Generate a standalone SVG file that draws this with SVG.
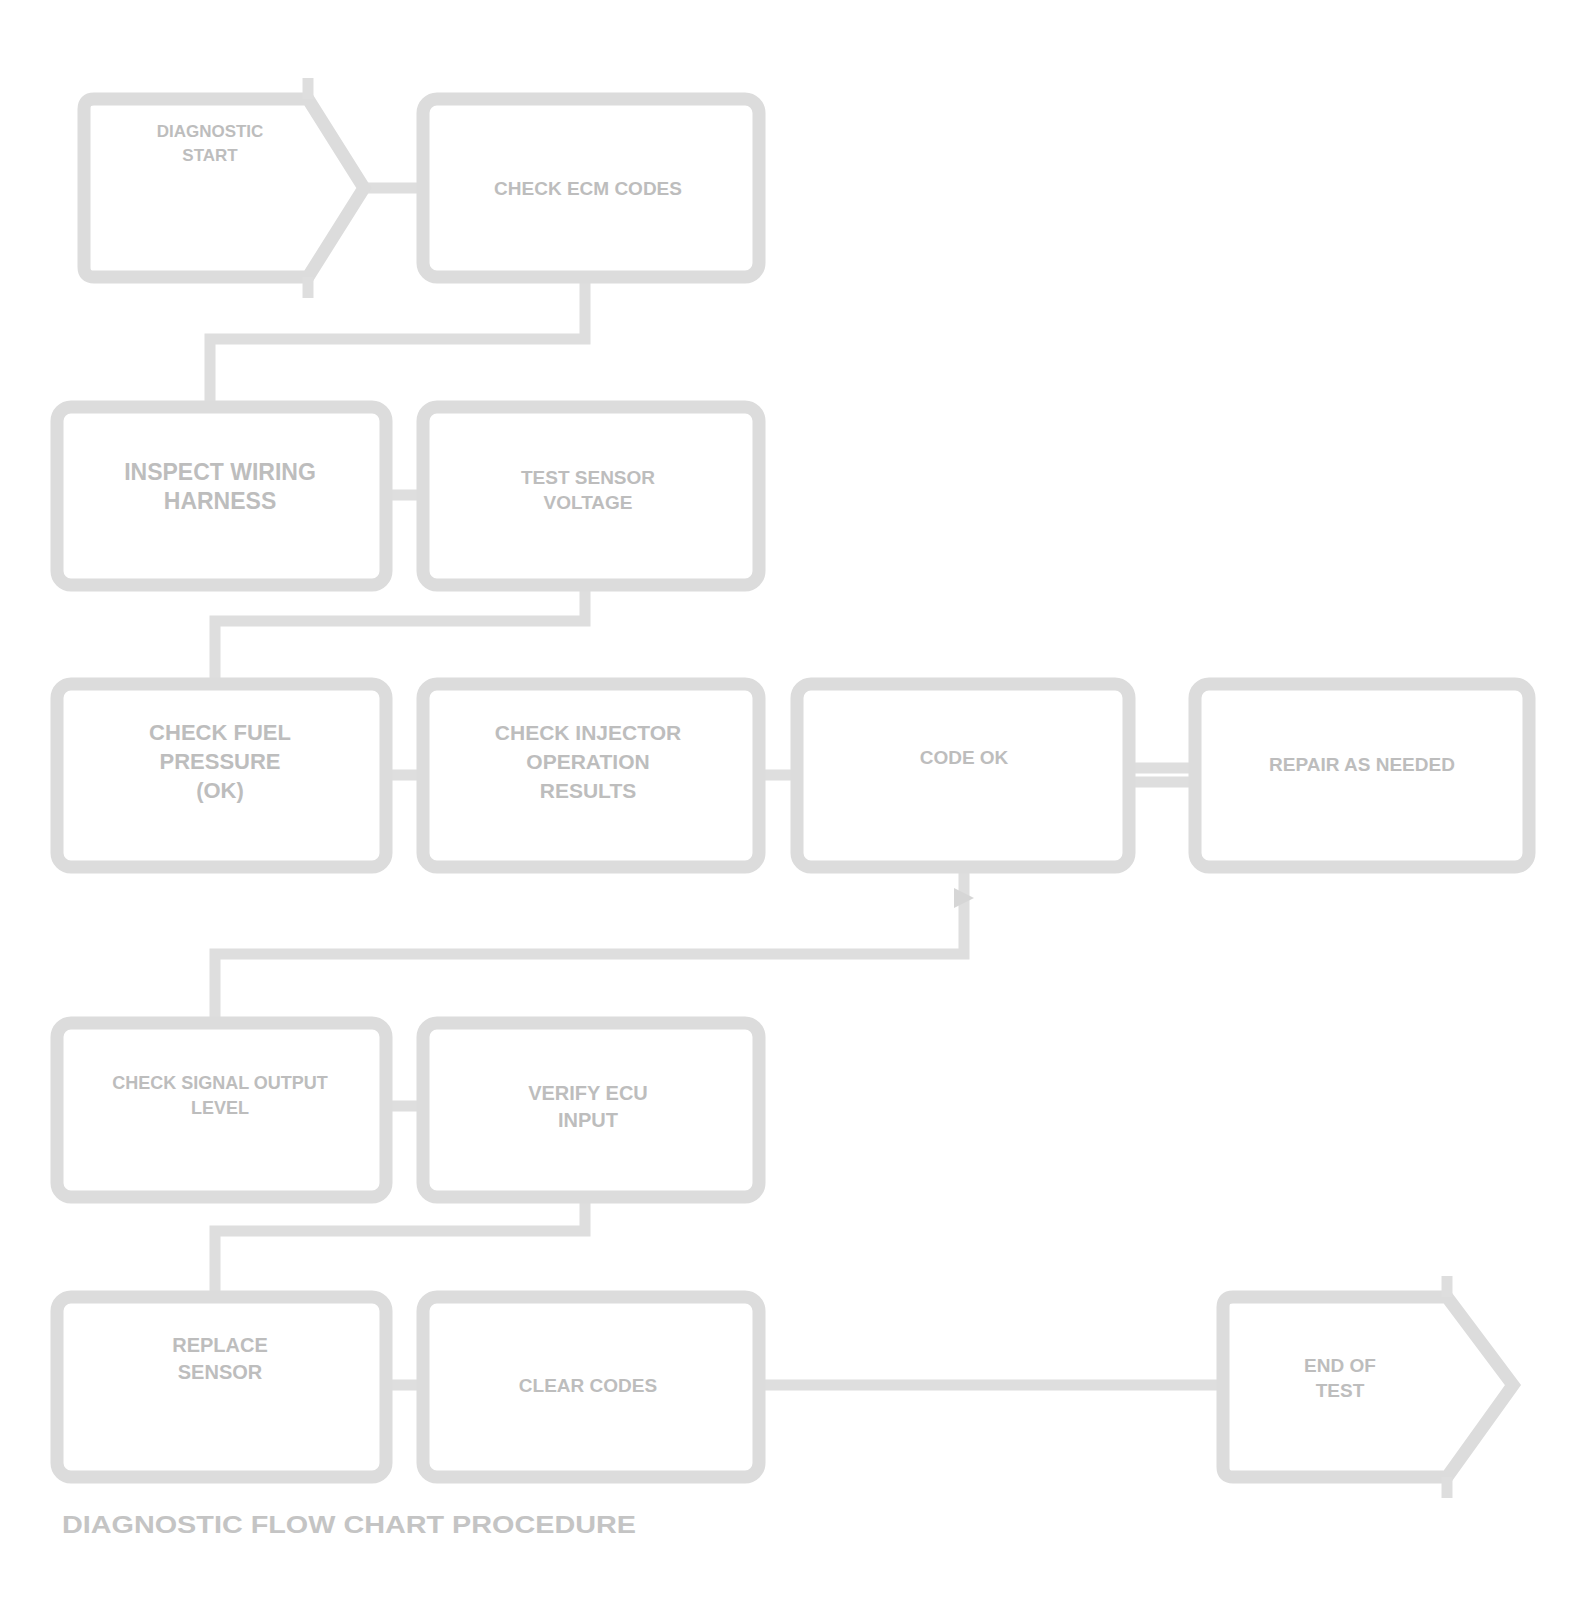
<svg xmlns="http://www.w3.org/2000/svg" width="1571" height="1612" viewBox="0 0 1571 1612">
<style>
.box{fill:#fff;stroke:#dcdcdc;stroke-width:13}
.con{fill:none;stroke:#dedede;stroke-width:11}
.t{font-family:"Liberation Sans",Arial,sans-serif;font-weight:bold;fill:#bdbdbd;text-anchor:middle}
.cap{font-family:"Liberation Sans",Arial,sans-serif;font-weight:bold;fill:#c4c4c4;font-size:24px}
</style>
<rect width="1571" height="1612" fill="#fff"/>
<g id="connectors">
<line class="con" x1="364" y1="188" x2="423" y2="188"/>
<path class="con" d="M585 279 V339 H210 V403"/>
<line class="con" x1="386" y1="495" x2="423" y2="495"/>
<path class="con" d="M585 587 V621 H215 V680"/>
<line class="con" x1="386" y1="775" x2="423" y2="775"/>
<line class="con" x1="759" y1="775" x2="797" y2="775"/>
<line class="con" x1="1129" y1="768" x2="1195" y2="768"/>
<line class="con" x1="1129" y1="782" x2="1195" y2="782"/>
<path class="con" d="M964 869 V954 H215 V1019"/>
<path d="M954 888 L974 898 L954 908 Z" fill="#d6d6d6"/>
<line class="con" x1="386" y1="1106" x2="423" y2="1106"/>
<path class="con" d="M585 1197 V1231 H215 V1293"/>
<line class="con" x1="386" y1="1385" x2="423" y2="1385"/>
<line class="con" x1="759" y1="1385" x2="1223" y2="1385"/>
</g>
<g id="n1">
<path class="box" d="M94 99 H308 L364 188 L308 277 H94 Q84 277 84 267 V109 Q84 99 94 99 Z"/>
<line class="con" x1="308" y1="99" x2="308" y2="78"/>
<line class="con" x1="308" y1="277" x2="308" y2="298"/>
<text class="t" x="210" y="137" font-size="17">DIAGNOSTIC</text>
<text class="t" x="210" y="161" font-size="17">START</text>
</g>
<g id="n2">
<rect class="box" x="423" y="99" width="336" height="178" rx="14"/>
<text class="t" x="588" y="195" font-size="19">CHECK ECM CODES</text>
</g>
<g id="n3">
<rect class="box" x="57" y="407" width="329" height="178" rx="14"/>
<text class="t" x="220" y="480" font-size="23">INSPECT WIRING</text>
<text class="t" x="220" y="509" font-size="23">HARNESS</text>
</g>
<g id="n4">
<rect class="box" x="423" y="407" width="336" height="178" rx="14"/>
<text class="t" x="588" y="484" font-size="19">TEST SENSOR</text>
<text class="t" x="588" y="509" font-size="19">VOLTAGE</text>
</g>
<g id="n5">
<rect class="box" x="57" y="684" width="329" height="183" rx="14"/>
<text class="t" x="220" y="740" font-size="22">CHECK FUEL</text>
<text class="t" x="220" y="769" font-size="22">PRESSURE</text>
<text class="t" x="220" y="798" font-size="22">(OK)</text>
</g>
<g id="n6">
<rect class="box" x="423" y="684" width="336" height="183" rx="14"/>
<text class="t" x="588" y="740" font-size="21">CHECK INJECTOR</text>
<text class="t" x="588" y="769" font-size="21">OPERATION</text>
<text class="t" x="588" y="798" font-size="21">RESULTS</text>
</g>
<g id="n7">
<rect class="box" x="797" y="684" width="332" height="183" rx="14"/>
<text class="t" x="964" y="764" font-size="19">CODE OK</text>
</g>
<g id="n8">
<rect class="box" x="1195" y="684" width="334" height="183" rx="14"/>
<text class="t" x="1362" y="771" font-size="19">REPAIR AS NEEDED</text>
</g>
<g id="n9">
<rect class="box" x="57" y="1023" width="329" height="174" rx="14"/>
<text class="t" x="220" y="1089" font-size="18">CHECK SIGNAL OUTPUT</text>
<text class="t" x="220" y="1114" font-size="18">LEVEL</text>
</g>
<g id="n10">
<rect class="box" x="423" y="1023" width="336" height="174" rx="14"/>
<text class="t" x="588" y="1100" font-size="20">VERIFY ECU</text>
<text class="t" x="588" y="1127" font-size="20">INPUT</text>
</g>
<g id="n11">
<rect class="box" x="57" y="1297" width="329" height="180" rx="14"/>
<text class="t" x="220" y="1352" font-size="20">REPLACE</text>
<text class="t" x="220" y="1379" font-size="20">SENSOR</text>
</g>
<g id="n12">
<rect class="box" x="423" y="1297" width="336" height="180" rx="14"/>
<text class="t" x="588" y="1392" font-size="19">CLEAR CODES</text>
</g>
<g id="n13">
<path class="box" d="M1233 1297 H1447 L1513 1385 L1447 1477 H1233 Q1223 1477 1223 1467 V1307 Q1223 1297 1233 1297 Z"/>
<line class="con" x1="1447" y1="1297" x2="1447" y2="1276"/>
<line class="con" x1="1447" y1="1477" x2="1447" y2="1498"/>
<text class="t" x="1340" y="1372" font-size="19">END OF</text>
<text class="t" x="1340" y="1397" font-size="19">TEST</text>
</g>
<text class="cap" x="62" y="1533" textLength="574" lengthAdjust="spacingAndGlyphs">DIAGNOSTIC FLOW CHART PROCEDURE</text>
</svg>
